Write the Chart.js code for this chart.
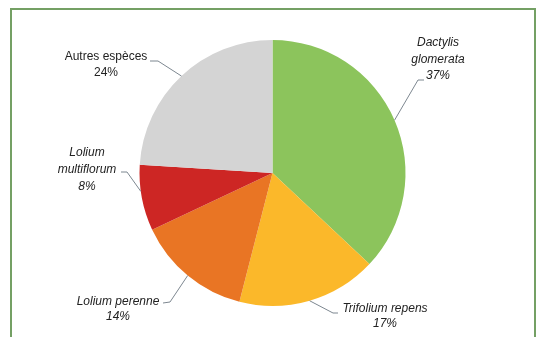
<!DOCTYPE html>
<html>
<head>
<meta charset="utf-8">
<script src="https://cdn.jsdelivr.net/npm/chart.js@4/dist/chart.umd.min.js"></script>
<style>
  html, body { margin: 0; padding: 0; background: #fff; }
  #wrap { position: relative; width: 545px; height: 337px; overflow: hidden; }
  #frame {
    position: absolute; left: 10px; top: 8px; width: 526px; height: 400px;
    border: 2px solid #74a064; box-sizing: border-box;
  }
  canvas { position: absolute; left: 0; top: 0; }
</style>
</head>
<body>
<div id="wrap">
  <div id="frame"></div>
  <canvas id="chart" width="545" height="337"></canvas>
</div>
<script>
// Data, clockwise from 12 o'clock
const species = [
  ['Dactylis', 'glomerata'],
  ['Trifolium repens'],
  ['Lolium perenne'],
  ['Lolium', 'multiflorum'],
  ['Autres espèces'],
];
const shares = [37, 17, 14, 8, 24];
const sliceColors = ['#8cc45c', '#fbb82a', '#e97524', '#cd2624', '#d4d4d4'];
const italicLabel = [true, true, true, true, false];

// Label layout: text block centre x, first line y, line height,
// elbow and end of the leader line, where along the slice (0..1) it touches the edge
const labelLayout = [
  { x: 438, y: 43, lh: 16.5, elbow: [418, 80], stub: [424, 80], along: 0.5 },
  { x: 385, y: 309, lh: 15, elbow: [333, 313], stub: [338, 313], along: 0.5 },
  { x: 118, y: 302, lh: 15, elbow: [170, 302], stub: [163, 303], along: 0.5 },
  { x: 87, y: 153, lh: 17, elbow: [127, 172], stub: [121, 172], along: 0.6 },
  { x: 106, y: 57, lh: 16, elbow: [158, 61], stub: [150, 61], along: 0.5 },
];

const labelPlugin = {
  id: 'leaderLabels',
  afterDatasetsDraw(chart) {
    const ctx = chart.ctx;
    const meta = chart.getDatasetMeta(0);
    ctx.save();
    meta.data.forEach((arc, i) => {
      const { x, y, startAngle, endAngle, outerRadius } = arc.getProps(
        ['x', 'y', 'startAngle', 'endAngle', 'outerRadius'], true);
      const L = labelLayout[i];
      const a = startAngle + (endAngle - startAngle) * L.along;
      const ex = x + Math.cos(a) * outerRadius;
      const ey = y + Math.sin(a) * outerRadius;

      // leader line
      ctx.strokeStyle = '#7d8790';
      ctx.lineWidth = 1;
      ctx.beginPath();
      ctx.moveTo(ex, ey);
      ctx.lineTo(L.elbow[0], L.elbow[1]);
      ctx.lineTo(L.stub[0], L.stub[1]);
      ctx.stroke();

      // text
      const lines = species[i].concat([shares[i] + '%']);
      ctx.fillStyle = '#222';
      ctx.font = (italicLabel[i] ? 'italic ' : '') + '12px "Liberation Sans", Arial, sans-serif';
      ctx.textAlign = 'center';
      ctx.textBaseline = 'middle';
      lines.forEach((t, j) => ctx.fillText(t, L.x, L.y + j * L.lh));
    });
    ctx.restore();
  },
};

new Chart(document.getElementById('chart'), {
  type: 'pie',
  data: {
    labels: species.map((s) => s.join(' ')),
    datasets: [{
      data: shares,
      backgroundColor: sliceColors,
      borderWidth: 0,
    }],
  },
  options: {
    responsive: false,
    animation: false,
    devicePixelRatio: 1,
    layout: { padding: { top: 40, bottom: 31, left: 0, right: 0 } },
    plugins: {
      legend: { display: false },
      tooltip: { enabled: false },
    },
  },
  plugins: [labelPlugin],
});
</script>
</body>
</html>
